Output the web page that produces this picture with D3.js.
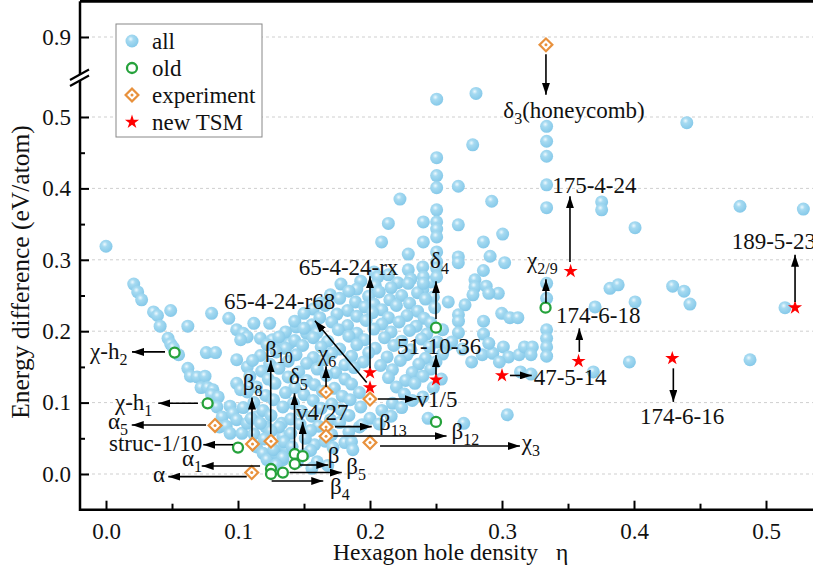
<!DOCTYPE html>
<html><head><meta charset="utf-8">
<script src="https://cdn.jsdelivr.net/npm/d3@7"></script>
<style>body{margin:0;background:#fff} svg{display:block}</style></head>
<body><svg id="c" width="813" height="569"></svg>
<script>
// ---------------- DATA ----------------
const xMajor = [0, 0.1, 0.2, 0.3, 0.4, 0.5];
const xMinor = [0.05, 0.15, 0.25, 0.35, 0.45];
const yMajor = [0, 0.1, 0.2, 0.3, 0.4, 0.5, 0.9];
const yMinor = [0.05, 0.15, 0.25, 0.35, 0.45];

const allLeft = [
[0.000,0.319],[0.021,0.266],[0.024,0.255],[0.027,0.244],[0.036,0.227],[0.039,0.222],[0.041,0.207],[0.049,0.229],[0.062,0.207],[0.080,0.225],[0.093,0.218],
[0.047,0.190],[0.049,0.182],[0.051,0.177],[0.055,0.167],[0.076,0.170],[0.083,0.170],
[0.062,0.148],[0.064,0.137],[0.069,0.136],[0.075,0.137],[0.072,0.121],[0.077,0.121],[0.081,0.118],
[0.080,0.111],[0.085,0.108],[0.084,0.094],[0.088,0.080],[0.086,0.066],
[0.099,0.202],[0.104,0.197],[0.112,0.211],[0.124,0.211],[0.107,0.192],[0.102,0.188],[0.117,0.190],[0.126,0.188],[0.133,0.185],[0.139,0.183],[0.144,0.206],[0.152,0.197],
[0.099,0.160],[0.107,0.150],[0.099,0.127],[0.102,0.118],[0.109,0.122],
[0.094,0.095],[0.096,0.085],[0.099,0.076],[0.091,0.067],[0.094,0.057],[0.103,0.057],[0.107,0.071],[0.114,0.080],[0.121,0.066],[0.124,0.062],[0.133,0.071],[0.134,0.053],
[0.114,0.038],[0.119,0.029],[0.122,0.020],[0.129,0.029],[0.134,0.020],[0.130,0.038],[0.137,0.036],[0.160,0.017],[0.168,0.012],[0.158,0.041]
];
const allCenter = [
[0.203,0.283],[0.214,0.279],[0.229,0.286],
[0.193,0.270],[0.206,0.276],[0.221,0.268],[0.231,0.273],[0.246,0.269],
[0.178,0.266],[0.190,0.259],[0.204,0.264],[0.216,0.261],[0.229,0.267],[0.240,0.258],
[0.170,0.251],[0.184,0.256],[0.199,0.249],[0.207,0.255],[0.224,0.250],[0.236,0.254],[0.248,0.248],
[0.163,0.240],[0.177,0.246],[0.189,0.241],[0.203,0.238],[0.215,0.244],[0.230,0.239],[0.242,0.245],
[0.157,0.231],[0.166,0.236],[0.183,0.229],[0.196,0.234],[0.209,0.230],[0.220,0.236],[0.236,0.228],[0.249,0.233],
[0.150,0.225],[0.162,0.219],[0.175,0.224],[0.190,0.221],[0.202,0.226],[0.214,0.219],[0.228,0.222],[0.241,0.218],
[0.143,0.214],[0.156,0.209],[0.171,0.213],[0.183,0.208],[0.197,0.215],[0.209,0.210],[0.222,0.213],[0.235,0.207],[0.246,0.212],
[0.136,0.199],[0.150,0.204],[0.160,0.198],[0.176,0.202],[0.190,0.197],[0.203,0.203],[0.216,0.199],[0.230,0.201],[0.243,0.196],[0.255,0.202],
[0.131,0.192],[0.143,0.187],[0.157,0.191],[0.168,0.186],[0.184,0.193],[0.196,0.188],[0.211,0.191],[0.224,0.186],[0.239,0.189],[0.251,0.185],
[0.122,0.181],[0.136,0.176],[0.149,0.180],[0.163,0.178],[0.177,0.175],[0.190,0.181],[0.204,0.176],[0.218,0.180],[0.231,0.174],[0.245,0.178],[0.259,0.181],
[0.117,0.166],[0.129,0.171],[0.144,0.167],[0.157,0.163],[0.171,0.169],[0.186,0.165],[0.199,0.170],[0.213,0.164],[0.228,0.167],[0.242,0.162],[0.255,0.168],
[0.111,0.159],[0.124,0.154],[0.138,0.158],[0.152,0.155],[0.165,0.160],[0.181,0.153],[0.195,0.157],[0.208,0.152],[0.223,0.159],[0.237,0.154],[0.250,0.157],
[0.118,0.144],[0.131,0.148],[0.146,0.143],[0.160,0.147],[0.174,0.142],[0.188,0.149],[0.217,0.146],[0.232,0.142],[0.246,0.147],
[0.109,0.137],[0.123,0.133],[0.138,0.136],[0.152,0.131],[0.167,0.138],[0.181,0.133],[0.214,0.135],[0.227,0.131],[0.240,0.137],[0.254,0.133],
[0.114,0.122],[0.128,0.127],[0.143,0.121],[0.158,0.125],[0.173,0.120],[0.186,0.126],[0.220,0.122],[0.234,0.127],[0.248,0.121],
[0.107,0.115],[0.121,0.110],[0.136,0.114],[0.150,0.111],[0.164,0.116],[0.179,0.109],[0.192,0.114],[0.226,0.112],[0.240,0.108],
[0.112,0.100],[0.127,0.104],[0.142,0.099],[0.157,0.103],[0.171,0.098],[0.185,0.104],[0.217,0.099],[0.232,0.103],
[0.104,0.093],[0.119,0.089],[0.134,0.094],[0.148,0.088],[0.163,0.092],[0.178,0.090],[0.193,0.094],[0.209,0.089],[0.224,0.093],
[0.110,0.078],[0.125,0.082],[0.140,0.077],[0.156,0.081],[0.170,0.076],[0.184,0.082],[0.200,0.078],[0.216,0.081],
[0.117,0.071],[0.131,0.066],[0.147,0.070],[0.161,0.067],[0.177,0.072],[0.192,0.066],[0.207,0.070],
[0.112,0.056],[0.125,0.060],[0.140,0.057],[0.155,0.061],[0.171,0.055],[0.184,0.059],
[0.120,0.049],[0.135,0.045],[0.151,0.050],[0.166,0.046],[0.181,0.044],
[0.127,0.034],[0.141,0.038],[0.155,0.033],[0.172,0.037],
[0.134,0.023],[0.150,0.027],[0.129,0.013],[0.145,0.017],[0.156,0.008]
];
const allUpper = [
[0.2505,0.525],[0.2803,0.533],[0.2505,0.443],[0.2505,0.418],[0.2505,0.401],[0.2669,0.403],[0.2778,0.461],[0.2227,0.385],[0.2922,0.382],
[0.2505,0.370],[0.2505,0.353],[0.2505,0.343],[0.2505,0.332],[0.2404,0.353],[0.2669,0.349],[0.2139,0.351],[0.2088,0.325],[0.2404,0.325],
[0.2859,0.325],[0.3005,0.336],[0.2505,0.311],[0.229,0.308],[0.2669,0.304],[0.2669,0.296],[0.291,0.305],[0.302,0.296],[0.240,0.290],
[0.2505,0.297],[0.2505,0.288],[0.2404,0.276],[0.2505,0.276],[0.2404,0.267],[0.2859,0.285],[0.2795,0.272],[0.2795,0.262],[0.288,0.263],
[0.2972,0.253],[0.290,0.253],[0.278,0.251],[0.272,0.237],[0.2593,0.241],[0.267,0.223],[0.267,0.214],[0.267,0.198],[0.286,0.214],
[0.2998,0.225],[0.306,0.219],[0.312,0.219],
[0.286,0.196],[0.301,0.178],[0.305,0.164],[0.313,0.167],[0.317,0.178],[0.323,0.178],[0.322,0.167],[0.277,0.157],[0.285,0.167],
[0.293,0.169],[0.298,0.157],[0.290,0.183],[0.262,0.185],[0.270,0.175],
[0.244,0.078],[0.271,0.071],[0.304,0.083],[0.186,0.045],[0.187,0.034],[0.194,0.069],[0.314,0.143],[0.322,0.140]
];
const allRight = [
[0.3338,0.487],[0.3338,0.466],[0.3338,0.445],[0.3338,0.405],[0.3338,0.373],[0.3338,0.267],[0.3338,0.246],[0.3338,0.202],
[0.3338,0.190],[0.3338,0.178],[0.3338,0.165],
[0.3755,0.381],[0.3755,0.370],[0.3818,0.260],[0.388,0.265],[0.3705,0.234],[0.4008,0.345],[0.4803,0.375],[0.5283,0.371],
[0.4293,0.263],[0.4379,0.256],[0.4424,0.238],[0.4008,0.241],[0.5144,0.233],[0.3965,0.157],[0.4879,0.160],[0.3692,0.143],[0.440,0.492]
];
const oldPoints = [[0.052,0.170],[0.077,0.099],[0.100,0.037],[0.125,0.007],[0.125,0.000],[0.134,0.002],
[0.143,0.028],[0.149,0.025],[0.143,0.014],[0.250,0.205],[0.250,0.073],[0.333,0.233]];
const experimentPoints = [[0.3333,0.889],[0.1667,0.115],[0.200,0.105],[0.1667,0.066],[0.1667,0.053],[0.200,0.044],
[0.125,0.046],[0.111,0.042],[0.0826,0.068],[0.1104,0.002]];
const newTSMPoints = [[0.200,0.142],[0.200,0.121],[0.250,0.132],[0.300,0.138],[0.352,0.284],[0.358,0.158],[0.429,0.162],[0.522,0.233]];

// label markup: text between _ _ is subscript
const annotations = [
 {t:"δ_3_(honeycomb)", from:[0.3333,0.876], to:[0.3333,0.531], at:[0.301,0.499]},
 {t:"175-4-24", from:[0.3515,0.297], to:[0.3515,0.389], at:[0.338,0.394]},
 {t:"χ_2/9_", from:[0.3333,0.240], to:[0.3333,0.2727], at:[0.319,0.2885]},
 {t:"174-6-18", from:[0.3586,0.171], to:[0.3586,0.204], at:[0.341,0.2115]},
 {t:"47-5-14", from:[0.306,0.138], to:[0.3225,0.138], at:[0.324,0.125]},
 {t:"174-6-16", from:[0.4298,0.148], to:[0.4298,0.101], at:[0.4045,0.070]},
 {t:"189-5-23", from:[0.522,0.241], to:[0.522,0.307], at:[0.474,0.315]},
 {t:"65-4-24-rx", from:[0.200,0.148], to:[0.200,0.277], at:[0.146,0.279]},
 {t:"65-4-24-r68", from:[0.1975,0.128], to:[0.1583,0.2147], at:[0.0894,0.231]},
 {t:"δ_4_", from:[0.250,0.217], to:[0.250,0.270], at:[0.2455,0.2885]},
 {t:"51-10-36", from:[0.250,0.139], to:[0.250,0.1667], at:[0.2205,0.168]},
 {t:"χ_6_", from:[0.1667,0.122], to:[0.1667,0.151], at:[0.1606,0.158]},
 {t:"δ_5_", from:[0.1428,0.036], to:[0.1428,0.113], at:[0.1386,0.126]},
 {t:"v4/27", from:[0.149,0.034], to:[0.149,0.073], at:[0.144,0.0756]},
 {t:"β_10_", from:[0.1248,0.056], to:[0.1248,0.159], at:[0.1205,0.164]},
 {t:"β_8_", from:[0.1106,0.052], to:[0.1106,0.107], at:[0.1036,0.1176]},
 {t:"χ-h_2_", from:[0.0447,0.171], to:[0.0197,0.171], at:[-0.0121,0.161]},
 {t:"χ-h_1_", from:[0.0697,0.099], to:[0.0396,0.099], at:[0.0068,0.0896]},
 {t:"α_5_", from:[0.0758,0.0686], to:[0.0195,0.0686], at:[0.0015,0.063]},
 {t:"struc-1/10", from:[0.0962,0.041], to:[0.0737,0.041], at:[0.0023,0.032]},
 {t:"α_1_", from:[0.1167,0.0112], to:[0.0725,0.0112], at:[0.0576,0.011]},
 {t:"α", from:[0.1066,-0.0037], to:[0.0472,-0.0037], at:[0.0356,-0.011]},
 {t:"β", from:[0.147,0.0126], to:[0.1684,0.0126], at:[0.168,0.0154]},
 {t:"β_5_", from:[0.139,0.002], to:[0.1786,0.002], at:[0.182,0.0]},
 {t:"β_4_", from:[0.1255,-0.0098], to:[0.1646,-0.0098], at:[0.1697,-0.028]},
 {t:"β_13_", from:[0.1735,0.0663], to:[0.2013,0.0663], at:[0.2068,0.0616]},
 {t:"β_12_", from:[0.1722,0.0532], to:[0.258,0.0532], at:[0.2618,0.049]},
 {t:"χ_3_", from:[0.2076,0.0392], to:[0.3136,0.0392], at:[0.3149,0.0336]},
 {t:"v1/5", from:[0.206,0.105], to:[0.2353,0.105], at:[0.2353,0.094]}
];
const legendItems = ["all","old","experiment","new TSM"];

// ---------------- CHART ----------------
const FONT = '"Liberation Serif"';
const svg = d3.select("#c").style("font-family", FONT);
const X0 = 80, X1 = 813;
const x = d3.scaleLinear().domain([0, 0.5]).range([106, 766]);
const y = d3.scaleLinear().domain([-0.05, 0.55, 0.85, 0.95]).range([509.7, 81.3, 72.7, 1.3]);
const YB = y(-0.05), YT = y(0.95);
const FS = 23;

const defs = svg.append("defs");
const grad = defs.append("radialGradient").attr("id","ball").attr("cx","0.4").attr("cy","0.35").attr("r","0.7");
grad.append("stop").attr("offset","0").attr("stop-color","#eef9fe");
grad.append("stop").attr("offset","0.3").attr("stop-color","#a6daf1");
grad.append("stop").attr("offset","1").attr("stop-color","#82c7e8");
defs.append("marker").attr("id","ah").attr("viewBox","0 0 12 8").attr("refX",12).attr("refY",4)
  .attr("markerWidth",12).attr("markerHeight",8).attr("markerUnits","userSpaceOnUse").attr("orient","auto")
  .append("path").attr("d","M0,0 L12,4 L0,8 Z").attr("fill","#000");

// grid
svg.append("g").selectAll("line").data(yMajor).join("line")
  .attr("x1",X0).attr("x2",X1).attr("y1",d=>y(d)).attr("y2",d=>y(d))
  .attr("stroke","#cfcfcf").attr("stroke-width",1).attr("stroke-dasharray","3,3");

// points
const gPts = svg.append("g");
const allPts = allLeft.concat(allCenter, allUpper, allRight);
gPts.selectAll("circle.all").data(allPts).join("circle").attr("class","all")
  .attr("cx",d=>x(d[0])).attr("cy",d=>y(d[1])).attr("r",6.5).attr("fill","url(#ball)");

const GREEN = "#26a23c", ORANGE = "#e8913c", RED = "#ff0000";
function drawOld(g, cx, cy){ g.append("circle").attr("cx",cx).attr("cy",cy).attr("r",5).attr("fill","#fff").attr("stroke",GREEN).attr("stroke-width",2.3); }
const diamondPath = d3.symbol().type(d3.symbolSquare).size(82)();
function drawExp(g, cx, cy){
  g.append("path").attr("d",diamondPath).attr("transform",`translate(${cx},${cy}) rotate(45)`)
   .attr("fill","#fff").attr("stroke",ORANGE).attr("stroke-width",2.2);
  g.append("circle").attr("cx",cx).attr("cy",cy).attr("r",1.5).attr("fill",ORANGE);
}
const starPath = d3.symbol().type(d3.symbolStar).size(62)();
function drawStar(g, cx, cy){ g.append("path").attr("d",starPath).attr("transform",`translate(${cx},${cy})`).attr("fill",RED); }

oldPoints.forEach(d=>drawOld(gPts, x(d[0]), y(d[1])));
experimentPoints.forEach(d=>drawExp(gPts, x(d[0]), y(d[1])));
newTSMPoints.forEach(d=>drawStar(gPts, x(d[0]), y(d[1])));

// arrows + labels
function addLabel(g, markup, px, py, size, anchor){
  const t = g.append("text").attr("x",px).attr("y",py).attr("font-size",size).attr("text-anchor",anchor||"start");
  let shifted = 0;
  markup.split("_").forEach((p,i)=>{
    if(!p) return;
    const sub = i%2===1; const target = sub ? 6 : 0;
    t.append("tspan").attr("dy", target-shifted).attr("font-size", sub ? 16 : size).text(p);
    shifted = target;
  });
  return t;
}
const gAnn = svg.append("g");
annotations.forEach(a=>{
  gAnn.append("line").attr("x1",x(a.from[0])).attr("y1",y(a.from[1])).attr("x2",x(a.to[0])).attr("y2",y(a.to[1]))
    .attr("stroke","#000").attr("stroke-width",1.6).attr("marker-end","url(#ah)");
  addLabel(gAnn, a.t, x(a.at[0]), y(a.at[1]), FS);
});

// axes
const axG = svg.append("g");
const xAxis = d3.axisBottom(x).tickValues(xMajor).tickFormat(d3.format(".1f")).tickSizeInner(-9).tickSizeOuter(0).tickPadding(13);
const gx = axG.append("g").attr("transform",`translate(0,${YB})`).call(xAxis);
gx.select(".domain").remove();
axG.append("g").attr("transform",`translate(0,${YB})`)
  .call(d3.axisBottom(x).tickValues(xMinor).tickFormat("").tickSizeInner(-6).tickSizeOuter(0))
  .select(".domain").remove();
const yAxis = d3.axisLeft(y).tickValues(yMajor).tickFormat(d3.format(".1f")).tickSizeInner(-9).tickSizeOuter(0).tickPadding(9);
const gy = axG.append("g").attr("transform",`translate(${X0},0)`).call(yAxis);
gy.select(".domain").remove();
axG.append("g").attr("transform",`translate(${X0},0)`)
  .call(d3.axisLeft(y).tickValues(yMinor).tickFormat("").tickSizeInner(-5).tickSizeOuter(0))
  .select(".domain").remove();
axG.selectAll(".tick line").attr("stroke","#000").attr("stroke-width",2);
axG.selectAll(".tick text").attr("font-size",FS).attr("fill","#111");

// frame lines
axG.append("line").attr("x1",X0).attr("x2",X1).attr("y1",YB).attr("y2",YB).attr("stroke","#000").attr("stroke-width",2.5);
axG.append("line").attr("x1",X0).attr("x2",X1).attr("y1",YT).attr("y2",YT).attr("stroke","#000").attr("stroke-width",3);
axG.append("line").attr("x1",X0).attr("x2",X0).attr("y1",YT).attr("y2",74.7).attr("stroke","#000").attr("stroke-width",2.5);
axG.append("line").attr("x1",X0).attr("x2",X0).attr("y1",80.5).attr("y2",YB+1.2).attr("stroke","#000").attr("stroke-width",2.5);
// break marks
axG.append("line").attr("x1",70).attr("y1",80).attr("x2",89).attr("y2",69.5).attr("stroke","#000").attr("stroke-width",2);
axG.append("line").attr("x1",70).attr("y1",86).attr("x2",89).attr("y2",75.5).attr("stroke","#000").attr("stroke-width",2);

// axis titles
const xt = svg.append("text").attr("x",333).attr("y",560).attr("font-size",23.5);
xt.append("tspan").text("Hexagon hole density");
xt.append("tspan").attr("dx",18).text("η");
svg.append("text").attr("transform","translate(29,272) rotate(-90)").attr("text-anchor","middle")
  .attr("font-size",25.5).text("Energy difference (eV/atom)");

// legend
const lg = svg.append("g");
lg.append("rect").attr("x",116).attr("y",24).attr("width",146).attr("height",113)
  .attr("fill","#fff").attr("stroke","#888").attr("stroke-width",1);
const ly = d3.scalePoint().domain(legendItems).range([41,122]);
lg.append("circle").attr("cx",132).attr("cy",ly("all")).attr("r",6.5).attr("fill","url(#ball)");
drawOld(lg, 132, ly("old"));
drawExp(lg, 132, ly("experiment"));
drawStar(lg, 132, ly("new TSM"));
legendItems.forEach(k=>lg.append("text").attr("x",152).attr("y",ly(k)+8).attr("font-size",FS).text(k));

// font for every text
svg.selectAll("text").style("font-family", FONT).style("fill","#111");
</script>
</body></html>
